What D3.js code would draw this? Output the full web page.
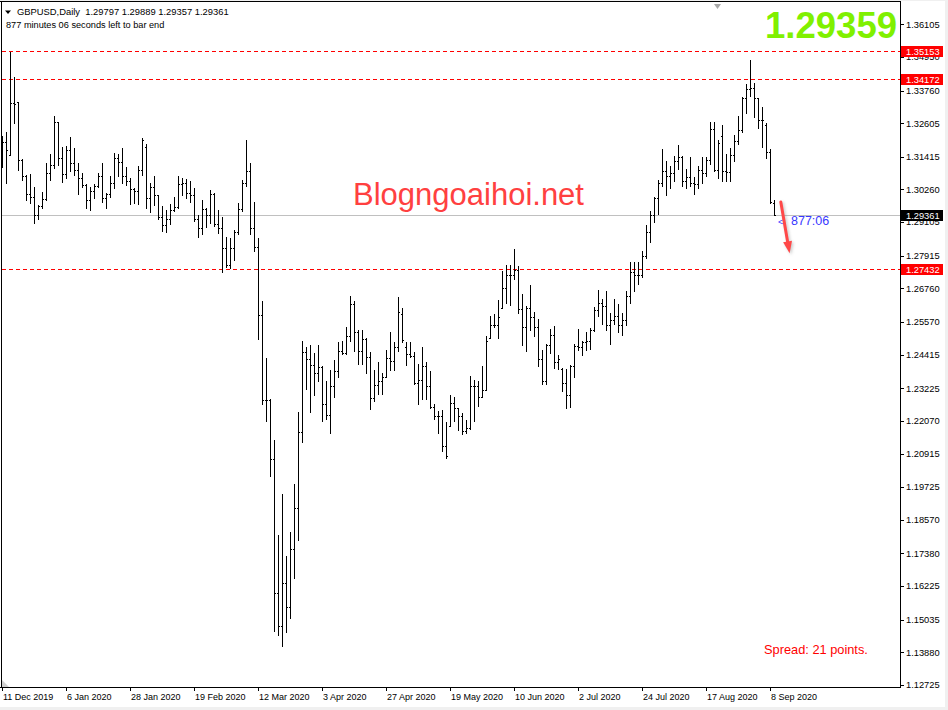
<!DOCTYPE html>
<html><head><meta charset="utf-8">
<script src="https://cdn.jsdelivr.net/npm/d3@7"></script>
<style>
html,body{margin:0;padding:0;background:#f0f0f0;}
svg{display:block;font-family:Arial,"Liberation Sans",sans-serif;}
</style>
</head><body><div id="chart"></div>
<script>
// ---------------- DATA ----------------
const symbolTitle = "GBPUSD,Daily";
const headerValues = ["1.29797", "1.29889", "1.29357", "1.29361"];
const timerText = "877 minutes 06 seconds left to bar end";

const opens = [
1.3193,1.3193,1.3148,1.3331,1.3335,1.3131,1.3075,1.3009,1.3001,1.2936,
1.2969,1.2991,1.3083,1.3111,1.3266,1.3136,1.3080,1.3166,1.3119,1.3095,
1.3068,1.3042,1.2989,1.3021,1.3040,1.3075,1.2995,1.3009,1.3048,1.3139,
1.3122,1.3074,1.3056,1.3027,1.3019,1.3095,1.3175,1.2997,1.3033,1.3005,
1.2928,1.2901,1.2920,1.2955,1.2965,1.3047,1.3048,1.3012,1.3006,1.2921,
1.2890,1.2958,1.2935,1.3010,1.2904,1.2891,1.2819,1.2760,1.2819,1.2877,
1.2958,1.3048,1.3090,1.2888,1.2823,1.2582,1.2281,1.2281,1.2071,1.1598,
1.1482,1.1632,1.1549,1.1754,1.1898,1.2169,1.2451,1.2426,1.2406,1.2376,
1.2399,1.2267,1.2228,1.2331,1.2382,1.2453,1.2447,1.2508,1.2620,1.2520,
1.2456,1.2497,1.2433,1.2288,1.2335,1.2349,1.2362,1.2431,1.2420,1.2468,
1.2586,1.2470,1.2444,1.2435,1.2341,1.2352,1.2403,1.2332,1.2258,1.2225,
1.2225,1.2117,1.2190,1.2270,1.2252,1.2223,1.2172,1.2182,1.2329,1.2329,
1.2290,1.2317,1.2502,1.2547,1.2547,1.2606,1.2677,1.2724,1.2724,1.2741,
1.2602,1.2541,1.2608,1.2576,1.2541,1.2426,1.2347,1.2474,1.2512,1.2417,
1.2390,1.2341,1.2299,1.2402,1.2473,1.2468,1.2488,1.2490,1.2530,1.2600,
1.2625,1.2615,1.2545,1.2565,1.2580,1.2545,1.2565,1.2650,1.2735,1.2725,
1.2725,1.2790,1.2875,1.2935,1.2995,1.3050,1.3090,1.3075,1.3085,1.3125,
1.3140,1.3055,1.3070,1.3050,1.3045,1.3095,1.3085,1.3130,1.3240,1.3095,
1.3215,1.3090,1.3089,1.3148,1.3199,1.3235,1.3351,1.3381,1.3384,1.3349,
1.3272,1.3255,1.3158,1.29797];

const highs = [
1.3215,1.3230,1.3514,1.3423,1.3337,1.3133,1.3078,1.3080,1.3036,1.2971,
1.3017,1.3119,1.3151,1.3286,1.3266,1.3178,1.3180,1.3211,1.3172,1.3121,
1.3083,1.3046,1.3036,1.3046,1.3083,1.3119,1.3013,1.3074,1.3154,1.3151,
1.3174,1.3107,1.3068,1.3032,1.3109,1.3207,1.3187,1.3050,1.3073,1.3007,
1.2966,1.2953,1.2976,1.2999,1.3075,1.3068,1.3064,1.3055,1.3030,1.2935,
1.2989,1.2962,1.3023,1.3015,1.2955,1.2928,1.2857,1.2856,1.2883,1.2977,
1.3058,1.3200,1.3118,1.2980,1.2854,1.2633,1.2428,1.2283,1.2140,1.1805,
1.1947,1.1729,1.1813,1.1985,1.2238,1.2489,1.2470,1.2475,1.2446,1.2476,
1.2400,1.2350,1.2388,1.2423,1.2488,1.2490,1.2541,1.2650,1.2633,1.2529,
1.2527,1.2502,1.2450,1.2388,1.2417,1.2376,1.2459,1.2521,1.2485,1.2647,
1.2606,1.2488,1.2488,1.2450,1.2408,1.2470,1.2414,1.2382,1.2266,1.2243,
1.2244,1.2202,1.2299,1.2293,1.2252,1.2235,1.2211,1.2367,1.2352,1.2350,
1.2400,1.2508,1.2579,1.2585,1.2635,1.2738,1.2759,1.2759,1.2815,1.2756,
1.2657,1.2612,1.2688,1.2591,1.2567,1.2459,1.2480,1.2532,1.2543,1.2441,
1.2394,1.2390,1.2405,1.2479,1.2532,1.2490,1.2521,1.2535,1.2610,1.2670,
1.2640,1.2665,1.2590,1.2640,1.2620,1.2590,1.2665,1.2770,1.2770,1.2770,
1.2810,1.2900,1.2950,1.3000,1.3060,1.3170,1.3125,1.3110,1.3145,1.3185,
1.3145,1.3100,1.3140,1.3070,1.3110,1.3140,1.3140,1.3265,1.3265,1.3200,
1.3254,1.3152,1.3172,1.3219,1.3286,1.3355,1.3398,1.3484,1.3404,1.3349,
1.3319,1.3260,1.3168,1.29889];

const lows = [
1.3107,1.3050,1.3148,1.3260,1.3095,1.3060,1.2989,1.2977,1.2907,1.2921,
1.2960,1.2989,1.3060,1.3103,1.3113,1.3054,1.3066,1.3093,1.3078,1.3010,
1.3033,1.2960,1.2954,1.2995,1.3036,1.2983,1.2962,1.3001,1.3030,1.3072,
1.3048,1.3041,1.2973,1.2977,1.2974,1.3078,1.2962,1.2945,1.2972,1.2923,
1.2880,1.2877,1.2904,1.2951,1.2960,1.3006,1.2996,1.2980,1.2914,1.2857,
1.2867,1.2894,1.2906,1.2897,1.2873,1.2733,1.2751,1.2748,1.2778,1.2869,
1.2950,1.3040,1.2870,1.2808,1.2496,1.2268,1.2208,1.2012,1.1463,1.1449,
1.1412,1.1459,1.1508,1.1652,1.1786,1.2132,1.2319,1.2240,1.2300,1.2350,
1.2205,1.2213,1.2164,1.2290,1.2362,1.2443,1.2445,1.2490,1.2455,1.2409,
1.2409,1.2376,1.2249,1.2278,1.2302,1.2303,1.2362,1.2388,1.2388,1.2453,
1.2485,1.2405,1.2433,1.2338,1.2266,1.2284,1.2284,1.2252,1.2213,1.2166,
1.2099,1.2075,1.2188,1.2205,1.2176,1.2160,1.2166,1.2180,1.2205,1.2260,
1.2290,1.2317,1.2502,1.2541,1.2502,1.2606,1.2624,1.2618,1.2708,1.2588,
1.2474,1.2455,1.2529,1.2508,1.2403,1.2337,1.2337,1.2449,1.2394,1.2390,
1.2314,1.2252,1.2258,1.2361,1.2459,1.2441,1.2459,1.2460,1.2525,1.2580,
1.2550,1.2530,1.2480,1.2550,1.2520,1.2510,1.2545,1.2625,1.2665,1.2690,
1.2715,1.2785,1.2840,1.2910,1.2940,1.3040,1.3005,1.3030,1.3055,1.3100,
1.3040,1.3030,1.3040,1.3010,1.3030,1.3050,1.3075,1.3115,1.3090,1.3065,
1.3057,1.3057,1.3057,1.3125,1.3186,1.3228,1.3296,1.3357,1.3284,1.3242,
1.3175,1.3139,1.2977,1.29357];

const closes = [
1.3193,1.3166,1.3331,1.3327,1.3131,1.3075,1.3009,1.3001,1.2936,1.2969,
1.2991,1.3083,1.3111,1.3266,1.3136,1.3080,1.3166,1.3119,1.3095,1.3068,
1.3042,1.2989,1.3021,1.3040,1.3075,1.2995,1.3009,1.3048,1.3139,1.3122,
1.3074,1.3056,1.3027,1.3019,1.3095,1.3201,1.2997,1.3033,1.3005,1.2928,
1.2901,1.2920,1.2955,1.2965,1.3047,1.3048,1.3012,1.3006,1.2921,1.2890,
1.2958,1.2935,1.3010,1.2904,1.2891,1.2819,1.2760,1.2819,1.2877,1.2958,
1.3048,1.3090,1.2888,1.2823,1.2582,1.2281,1.2281,1.2071,1.1598,1.1482,
1.1632,1.1549,1.1754,1.1898,1.2169,1.2451,1.2426,1.2406,1.2376,1.2399,
1.2267,1.2228,1.2331,1.2382,1.2453,1.2447,1.2508,1.2620,1.2520,1.2456,
1.2497,1.2433,1.2288,1.2335,1.2349,1.2362,1.2431,1.2420,1.2468,1.2594,
1.2495,1.2444,1.2435,1.2341,1.2352,1.2403,1.2332,1.2258,1.2225,1.2225,
1.2117,1.2084,1.2270,1.2252,1.2223,1.2172,1.2182,1.2329,1.2329,1.2290,
1.2317,1.2490,1.2547,1.2547,1.2573,1.2677,1.2724,1.2724,1.2741,1.2602,
1.2541,1.2608,1.2576,1.2541,1.2426,1.2347,1.2474,1.2512,1.2417,1.2426,
1.2341,1.2299,1.2402,1.2473,1.2468,1.2488,1.2490,1.2530,1.2600,1.2625,
1.2615,1.2545,1.2565,1.2580,1.2545,1.2565,1.2650,1.2735,1.2725,1.2725,
1.2790,1.2875,1.2935,1.2995,1.3050,1.3090,1.3075,1.3085,1.3125,1.3140,
1.3055,1.3070,1.3050,1.3045,1.3095,1.3085,1.3130,1.3240,1.3095,1.3190,
1.3090,1.3089,1.3148,1.3199,1.3235,1.3351,1.3381,1.3384,1.3349,1.3272,
1.3272,1.3158,1.2980,1.29361];

const dateLabels = ["11 Dec 2019","6 Jan 2020","28 Jan 2020","19 Feb 2020","12 Mar 2020",
  "3 Apr 2020","27 Apr 2020","19 May 2020","10 Jun 2020","2 Jul 2020","24 Jul 2020",
  "17 Aug 2020","8 Sep 2020"];
const barsPerDateLabel = 16;

const priceTicks = [1.36105,1.34950,1.33760,1.32605,1.31415,1.30260,1.29105,1.27915,
  1.26760,1.25570,1.24415,1.23225,1.22070,1.20915,1.19725,1.18570,1.17380,1.16225,
  1.15035,1.13880,1.12725];

const levelLines = [1.35153, 1.34172, 1.27432];
const bidPrice = 1.29361;
const bigPrice = "1.29359";
const timerLabel = "877:06";
const spreadText = "Spread: 21 points.";
const watermark = "Blogngoaihoi.net";
// arrow annotation: [barIndex, price] start and end
const arrowFrom = [194.7, 1.2982];
const arrowTo = [196.9, 1.2800];

// ---------------- CHART ----------------
const W = 948, H = 710;
const plotRight = 900, plotBottom = 687;

const svg = d3.select("#chart").append("svg").attr("width", W).attr("height", H);

svg.append("rect").attr("width", W).attr("height", H).attr("fill", "#f0f0f0");
svg.append("rect").attr("x", 0).attr("y", 1).attr("width", 945).attr("height", 706).attr("fill", "#ffffff");

const x = d3.scaleLinear().domain([0, opens.length - 1]).range([2, 774]);
const y = d3.scaleLinear().domain([1.12725, 1.36105]).range([685, 24.3]);
const bx = i => Math.round(x(i));
const py = p => Math.round(y(p));

// frame
const frame = svg.append("g").attr("shape-rendering", "crispEdges").attr("stroke", "#000").attr("stroke-width", 1);
frame.append("line").attr("x1", 0).attr("x2", plotRight + 1).attr("y1", 1.5).attr("y2", 1.5);
frame.append("line").attr("x1", 1.5).attr("x2", 1.5).attr("y1", 1).attr("y2", plotBottom + 1);
frame.append("line").attr("x1", plotRight + 0.5).attr("x2", plotRight + 0.5).attr("y1", 1).attr("y2", plotBottom + 1);
frame.append("line").attr("x1", 0).attr("x2", plotRight + 1).attr("y1", plotBottom + 0.5).attr("y2", plotBottom + 0.5);

// level lines
svg.append("g").selectAll("line").data(levelLines).join("line")
  .attr("x1", 2).attr("x2", plotRight)
  .attr("y1", d => py(d) + 0.5).attr("y2", d => py(d) + 0.5)
  .attr("stroke", "#ff0000").attr("stroke-width", 1).attr("stroke-dasharray", "4,3")
  .attr("shape-rendering", "crispEdges");

// bid line
svg.append("line").attr("x1", 2).attr("x2", plotRight)
  .attr("y1", py(bidPrice) + 0.5).attr("y2", py(bidPrice) + 0.5)
  .attr("stroke", "#c0c0c0").attr("stroke-width", 1).attr("shape-rendering", "crispEdges");

// watermark
svg.append("text").attr("x", 353).attr("y", 205).text(watermark)
  .attr("font-size", 31).attr("fill", "#ff4040").attr("font-family", "Arial, 'Liberation Sans', sans-serif");

// bars
const bars = d3.range(opens.length).map(i => ({i, o: opens[i], h: highs[i], l: lows[i], c: closes[i]}));
const gBars = svg.append("g").attr("fill", "#000").attr("shape-rendering", "crispEdges");
gBars.selectAll("rect.hl").data(bars).join("rect").attr("class", "hl")
  .attr("x", d => bx(d.i)).attr("y", d => py(d.h))
  .attr("width", 1).attr("height", d => Math.max(1, py(d.l) - py(d.h) + 1));
gBars.selectAll("rect.op").data(bars).join("rect").attr("class", "op")
  .attr("x", d => bx(d.i) - 1).attr("y", d => py(d.o)).attr("width", 1).attr("height", 1);
gBars.selectAll("rect.cl").data(bars).join("rect").attr("class", "cl")
  .attr("x", d => bx(d.i) + 1).attr("y", d => py(d.c)).attr("width", 1).attr("height", 1);

// price axis ticks & labels (labels hidden by a level box are drawn clipped, as in the terminal)
const boxes = levelLines.map(p => ({p, fill: "#ff0000"})).concat([{p: bidPrice, fill: "#000000"}]);
const gY = svg.append("g");
gY.selectAll("line").data(priceTicks).join("line")
  .attr("x1", plotRight + 1).attr("x2", plotRight + 4)
  .attr("y1", d => py(d) + 0.5).attr("y2", d => py(d) + 0.5)
  .attr("stroke", "#000").attr("shape-rendering", "crispEdges");
gY.selectAll("text").data(priceTicks).join("text")
  .attr("x", 906).attr("y", d => y(d) + 3.3)
  .attr("font-size", 9.3).attr("fill", "#000").text(d => d.toFixed(5));

// level price boxes
const gB = svg.append("g");
gB.selectAll("rect").data(boxes).join("rect")
  .attr("x", 901).attr("y", d => py(d.p) - 5).attr("width", 42).attr("height", 11)
  .attr("fill", d => d.fill).attr("shape-rendering", "crispEdges");
gB.selectAll("text").data(boxes).join("text")
  .attr("x", 906).attr("y", d => py(d.p) + 3.8)
  .attr("font-size", 9.3).attr("fill", "#fff").text(d => d.p.toFixed(5));

// date axis
const dateTicks = dateLabels.map((t, k) => ({t, i: k * barsPerDateLabel}));
const gX = svg.append("g");
gX.selectAll("line").data(dateTicks).join("line")
  .attr("x1", d => bx(d.i) + 0.5).attr("x2", d => bx(d.i) + 0.5)
  .attr("y1", plotBottom).attr("y2", plotBottom + 4)
  .attr("stroke", "#000").attr("shape-rendering", "crispEdges");
gX.selectAll("text").data(dateTicks).join("text")
  .attr("x", d => bx(d.i) + 1).attr("y", 700)
  .attr("font-size", 9).attr("fill", "#000").text(d => d.t);

// chart-shift and scroll markers
svg.append("polygon").attr("points", "714,4 721,4 717.5,9").attr("fill", "#a8a8a8");
svg.append("polygon").attr("points", "2,680 2,687 9,687").attr("fill", "#d0d0d0");

// header
svg.append("polygon").attr("points", "5,10.5 11,10.5 8,14").attr("fill", "#000");
svg.append("text").attr("x", 17).attr("y", 15).attr("font-size", 9.4).attr("fill", "#000")
  .attr("xml:space", "preserve")
  .text(symbolTitle + "  " + headerValues.join(" "));
svg.append("text").attr("x", 6).attr("y", 27.5).attr("font-size", 9.2).attr("fill", "#000").text(timerText);

// big price
svg.append("text").attr("x", 897).attr("y", 38).attr("text-anchor", "end")
  .attr("font-size", 36.5).attr("font-weight", "bold").attr("fill", "#80f000").text(bigPrice);

// timer near last bar
svg.append("text").attr("x", x(opens.length - 1) + 4).attr("y", y(bidPrice) + 10)
  .attr("font-size", 9).attr("fill", "#3838ff").text("<");
svg.append("text").attr("x", x(opens.length - 1) + 17).attr("y", y(bidPrice) + 10.5)
  .attr("font-size", 12.5).attr("fill", "#3838ff").text(timerLabel);

// arrow
const defs = svg.append("defs");
defs.append("filter").attr("id", "sh").attr("x", "-50%").attr("y", "-50%").attr("width", "200%").attr("height", "200%")
  .append("feGaussianBlur").attr("stdDeviation", 1.6);
const ax1 = x(arrowFrom[0]), ay1 = y(arrowFrom[1]);
const ax2 = x(arrowTo[0]), ay2 = y(arrowTo[1]);
const ang = Math.atan2(ay2 - ay1, ax2 - ax1);
const headLen = 12, headW = 4.5;
const bxh = ax2 - headLen * Math.cos(ang), byh = ay2 - headLen * Math.sin(ang);
const nx = -Math.sin(ang), ny = Math.cos(ang);
function drawArrow(g, color, dx, dy) {
  g.append("line").attr("x1", ax1 + dx).attr("y1", ay1 + dy).attr("x2", bxh + dx).attr("y2", byh + dy)
    .attr("stroke", color).attr("stroke-width", 3).attr("stroke-linecap", "round");
  g.append("polygon").attr("points",
    [[ax2 + dx, ay2 + dy], [bxh + nx * headW + dx, byh + ny * headW + dy], [bxh - nx * headW + dx, byh - ny * headW + dy]]
      .map(p => p.join(",")).join(" "))
    .attr("fill", color);
}
drawArrow(svg.append("g").attr("filter", "url(#sh)").attr("opacity", 0.45), "#888", 1.5, 1.5);
drawArrow(svg.append("g"), "#ff4848", 0, 0);

// spread
svg.append("text").attr("x", 764).attr("y", 654).attr("font-size", 12.8).attr("fill", "#ff0000").text(spreadText);
</script>
</body></html>
